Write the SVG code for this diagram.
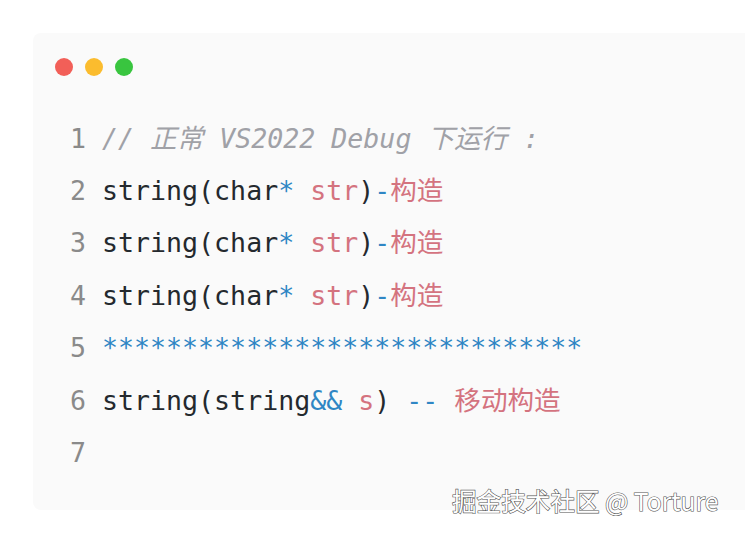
<svg xmlns="http://www.w3.org/2000/svg" width="745" height="534" viewBox="0 0 745 534">
<style>
text{font-family:"DejaVu Sans Mono","Noto Sans CJK SC",monospace;font-size:26.6px;fill:#24292e;white-space:pre}
.n{fill:#8a8a8a}.c{fill:#a0a1a7;font-style:italic}.b{fill:#2f86c4}.p{fill:#d4737f}
.w{font-family:"Noto Sans CJK SC","Noto Sans",sans-serif;font-size:24.6px;fill:#fff;stroke:#555;stroke-width:1.2;paint-order:stroke}
</style>
<rect width="745" height="534" fill="#fff"/>
<g id="card">
<rect x="33" y="33" width="730" height="477" rx="8" fill="#fafafa"/>
<circle cx="64" cy="67" r="9" fill="#f25f58"/>
<circle cx="94" cy="67" r="9" fill="#fbbc2e"/>
<circle cx="124" cy="67" r="9" fill="#39c53f"/>
</g>
<g id="code">
<text x="70" y="148"><tspan class="n">1 </tspan><tspan class="c">// 正常 VS2022 Debug 下运行 :</tspan></text>
<text x="70" y="200"><tspan class="n">2 </tspan>string(char<tspan class="b">*</tspan> <tspan class="p">str</tspan>)<tspan class="b">-</tspan><tspan class="p">构造</tspan></text>
<text x="70" y="252"><tspan class="n">3 </tspan>string(char<tspan class="b">*</tspan> <tspan class="p">str</tspan>)<tspan class="b">-</tspan><tspan class="p">构造</tspan></text>
<text x="70" y="305"><tspan class="n">4 </tspan>string(char<tspan class="b">*</tspan> <tspan class="p">str</tspan>)<tspan class="b">-</tspan><tspan class="p">构造</tspan></text>
<text x="70" y="357"><tspan class="n">5 </tspan><tspan class="b">******************************</tspan></text>
<text x="70" y="410"><tspan class="n">6 </tspan>string(string<tspan class="b">&amp;&amp;</tspan> <tspan class="p">s</tspan>) <tspan class="b">--</tspan> <tspan class="p">移动构造</tspan></text>
<text x="70" y="462"><tspan class="n">7</tspan></text>
</g>
<text class="w" x="452" y="511">掘金技术社区 @ Torture</text>
</svg>
